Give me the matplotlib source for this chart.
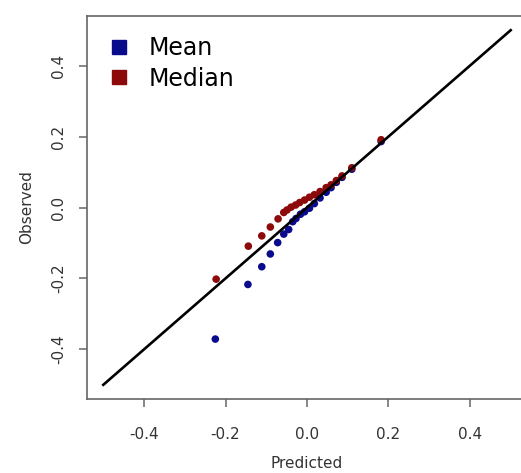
import numpy as np
import matplotlib
matplotlib.use('Agg')
import matplotlib.pyplot as plt
from matplotlib.lines import Line2D

# predicted vs observed
mean_pred = [-0.225, -0.145, -0.111, -0.090, -0.072, -0.057, -0.045, -0.035, -0.027,
             -0.016, -0.006, 0.006, 0.018, 0.032, 0.047, 0.059, 0.072, 0.086, 0.110, 0.182]
mean_obs = [-0.371, -0.217, -0.167, -0.131, -0.099, -0.075, -0.062, -0.040, -0.031,
            -0.019, -0.012, -0.002, 0.011, 0.027, 0.043, 0.056, 0.071, 0.085, 0.108, 0.186]

median_pred = [-0.223, -0.144, -0.111, -0.090, -0.071, -0.057, -0.049, -0.039, -0.028,
               -0.018, -0.006, 0.006, 0.018, 0.032, 0.047, 0.059, 0.072, 0.086, 0.110, 0.182]
median_obs = [-0.202, -0.109, -0.080, -0.055, -0.032, -0.014, -0.007, 0.001, 0.007,
              0.014, 0.021, 0.029, 0.036, 0.045, 0.056, 0.064, 0.076, 0.089, 0.112, 0.191]

ref_line = [-0.5, 0.5]
ticks = [-0.4, -0.2, 0.0, 0.2, 0.4]
tick_labels = ['-0.4', '-0.2', '0.0', '0.2', '0.4']

col_mean = '#0a0a8c'
col_median = '#8c0a0a'
txt = '#333333'

W, H = 521, 473
fig = plt.figure(figsize=(W / 100, H / 100), dpi=100)
# right part of the box is cut off in the reference, so the axes run past the edge
ax = fig.add_axes([87 / W, 1 - 399 / H, (527 - 87) / W, (399 - 16) / H])

ax.scatter(mean_pred, mean_obs, s=30, color=col_mean, edgecolors='none', zorder=3)
ax.scatter(median_pred, median_obs, s=30, color=col_median, edgecolors='none', zorder=4)
ax.plot(ref_line, ref_line, color='black', lw=1.9, zorder=5)

ax.set_xlim(-0.54, 0.54)
ax.set_ylim(-0.54, 0.54)
ax.set_xticks(ticks)
ax.set_xticklabels(tick_labels)
ax.set_yticks(ticks)
ax.set_yticklabels(tick_labels, rotation=90, va='center')

for s in ax.spines.values():
    s.set_color('#666666')
    s.set_linewidth(1.2)
ax.tick_params(axis='both', length=6, width=1.1, color='#666666', labelsize=11, labelcolor=txt)
ax.tick_params(axis='x', pad=14)
ax.tick_params(axis='y', pad=9)

ax.set_xlabel('Predicted', fontsize=11, color=txt, labelpad=10)
ax.set_ylabel('Observed', fontsize=11, color=txt, labelpad=12)

handles = [Line2D([], [], marker='s', ls='none', color=col_mean, markersize=10),
           Line2D([], [], marker='s', ls='none', color=col_median, markersize=10)]
ax.legend(handles, ['Mean', 'Median'], loc='upper left', frameon=False, fontsize=17,
          handletextpad=0.75, labelspacing=0.28, borderaxespad=0.35, handlelength=1.0,
          borderpad=0.5)

fig.savefig('out.png', dpi=100)
